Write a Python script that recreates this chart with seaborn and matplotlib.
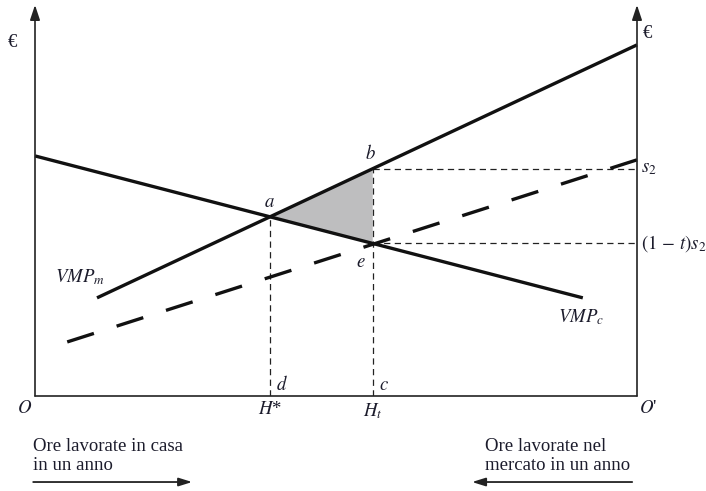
"""Home vs market work diagram: VMP curves, tax wedge and deadweight triangle."""
import matplotlib
matplotlib.use("Agg")
import matplotlib.pyplot as plt
import numpy as np
import pandas as pd
import seaborn as sns

# line end points, in chart units (O at x=0, O' at x=100; euro axis 0..100)
vmp_c_x = [0.0, 91.0]
vmp_c_y = [61.4, 25.1]
vmp_m_x = [10.3, 100.0]
vmp_m_y = [25.1, 89.8]
net_x = [100.0, 5.3]
net_y = [60.4, 13.8]
h_star = 39.0
h_t = 56.1

INK = "#1c1c2c"

sns.set_style("white")
plt.rcParams["font.family"] = ["Liberation Serif", "DejaVu Serif"]
plt.rcParams["mathtext.fontset"] = "stix"

fig = plt.figure(figsize=(7.06, 4.91), dpi=100)
ax = fig.add_axes([35 / 706, 95 / 491, 602 / 706, 391 / 491])
ax.set_xlim(0, 100)
ax.set_ylim(0, 100)
ax.axis("off")

# points
a_y = np.interp(h_star, vmp_c_x, vmp_c_y)
b_y = np.interp(h_t, vmp_m_x, vmp_m_y)
e_y = np.interp(h_t, vmp_c_x, vmp_c_y)

# shaded deadweight triangle a-b-e
ax.fill([h_star, h_t, h_t], [a_y, b_y, e_y], color="#bebebf", zorder=1, lw=0)

lines = pd.DataFrame({
    "x": vmp_c_x + vmp_m_x + net_x,
    "y": vmp_c_y + vmp_m_y + net_y,
    "curve": ["c"] * 2 + ["m"] * 2 + ["net"] * 2,
})
for name, grp in lines.groupby("curve"):
    ls = (0, (8.4, 7.15)) if name == "net" else "-"
    sns.lineplot(data=grp, x="x", y="y", ax=ax, color="#111111", lw=2.4,
                 linestyle=ls, solid_capstyle="butt", dash_capstyle="butt",
                 sort=False, zorder=3, clip_on=False)

# thin dashed guides
guide = dict(color="#222222", lw=0.9, ls=(0, (5, 3.5)), zorder=2)
ax.plot([h_star, h_star], [0, a_y], **guide)
ax.plot([h_t, h_t], [0, b_y], **guide)
ax.plot([h_t, 100], [b_y, b_y], **guide)
ax.plot([h_t, 100], [e_y, e_y], **guide)

# axes with arrows
ax.plot([0, 100], [0, 0], color="#222222", lw=1.2, clip_on=False, zorder=4)
for xv in (0, 100):
    ax.annotate("", xy=(xv, 100), xytext=(xv, 0),
                arrowprops=dict(arrowstyle="-|>,head_length=0.9,head_width=0.3",
                                color="#222222", lw=1.2, shrinkA=0, shrinkB=0))

txt = dict(color=INK, fontsize=13.5, clip_on=False)
ax.text(-3.8, 90.5, "€", ha="center", va="center", **txt)
ax.text(101.8, 92.8, "€", ha="center", va="center", **txt)
ax.text(h_star, a_y + 1.5, "$a$", ha="center", va="bottom", **txt)
ax.text(h_t - 0.4, b_y + 1.5, "$b$", ha="center", va="bottom", **txt)
ax.text(h_t - 2.0, e_y - 2.6, "$e$", ha="center", va="top", **txt)
ax.text(h_star + 1.0, 0.6, "$d$", ha="left", va="bottom", **txt)
ax.text(h_t + 1.0, 0.6, "$c$", ha="left", va="bottom", **txt)
ax.text(h_star, -1.4, "$H$*", ha="center", va="top", **txt)
ax.text(h_t, -1.4, "$H_t$", ha="center", va="top", **txt)
ax.text(-1.7, -1.0, "$O$", ha="center", va="top", **txt)
ax.text(101.8, -1.0, "$O$'", ha="center", va="top", **txt)
ax.text(100.7, b_y, "$s_2$", ha="left", va="center", **txt)
ax.text(100.7, e_y, "$(1\\,-\\,t)s_2$", ha="left", va="center", **txt)
ax.text(3.3, 30.5, "$VMP_m$", ha="left", va="center", **txt)
ax.text(86.8, 20.2, "$VMP_c$", ha="left", va="center", **txt)

ax.text(-0.3, -10.8, "Ore lavorate in casa\nin un anno", ha="left", va="top",
        linespacing=1.1, **txt)
ax.text(74.8, -10.8, "Ore lavorate nel\nmercato in un anno", ha="left", va="top",
        linespacing=1.1, **txt)
arrow = dict(arrowstyle="-|>,head_length=0.8,head_width=0.25", color="#222222",
             lw=1.3, shrinkA=0, shrinkB=0)
ax.annotate("", xy=(26.1, -22.0), xytext=(-0.3, -22.0), arrowprops=arrow,
            annotation_clip=False)
ax.annotate("", xy=(72.6, -22.0), xytext=(99.2, -22.0), arrowprops=arrow,
            annotation_clip=False)

fig.savefig("out.png", dpi=100)
